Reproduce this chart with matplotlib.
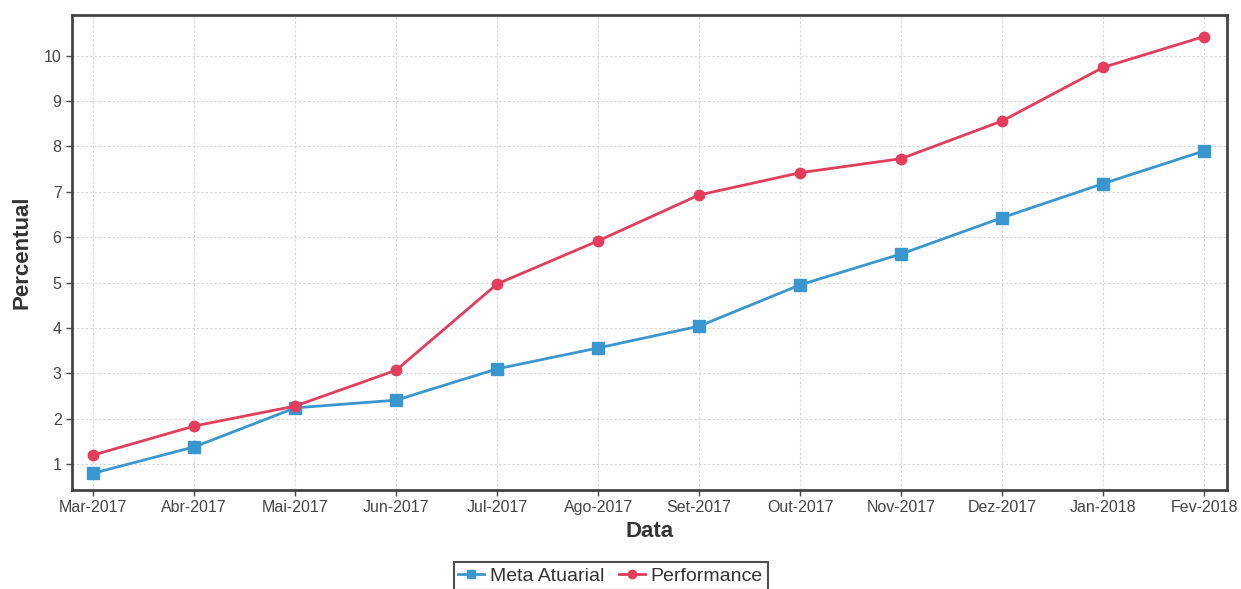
import matplotlib
matplotlib.use("Agg")
import matplotlib.pyplot as plt

months = ["Mar-2017", "Abr-2017", "Mai-2017", "Jun-2017", "Jul-2017", "Ago-2017",
          "Set-2017", "Out-2017", "Nov-2017", "Dez-2017", "Jan-2018", "Fev-2018"]
meta_atuarial = [0.80, 1.38, 2.24, 2.41, 3.10, 3.56, 4.04, 4.95, 5.63, 6.43, 7.18, 7.90]
performance = [1.20, 1.84, 2.28, 3.07, 4.97, 5.92, 6.93, 7.42, 7.73, 8.56, 9.74, 10.42]
yticks = [1, 2, 3, 4, 5, 6, 7, 8, 9, 10]

plt.rcParams['font.family'] = ['Liberation Sans', 'DejaVu Sans']

fig = plt.figure(figsize=(12.41, 5.89), dpi=100)
ax = fig.add_axes([0.058, 0.168, 0.931, 0.807])

x = list(range(len(months)))
l1, = ax.plot(x, meta_atuarial, color="#3a96cf", lw=2, marker="s", ms=8,
              label="Meta Atuarial", zorder=3)
l2, = ax.plot(x, performance, color="#e23d5c", lw=2, marker="o", ms=7.5,
              label="Performance", zorder=3)

ax.set_xlim(-0.21, 11.23)
ax.set_ylim(0.43, 10.9)
ax.set_xticks(x)
ax.set_xticklabels(months)
ax.set_yticks(yticks)
ax.tick_params(axis='both', colors="#444444", labelsize=11.5, length=4, width=1,
               labelcolor="#444444")
ax.grid(True, color="#d4d4d4", linestyle=(0, (2, 2)), lw=0.8)
for s in ax.spines.values():
    s.set_color("#444444")
    s.set_linewidth(2)

ax.set_xlabel("Data", fontsize=16, fontweight="bold", color="#333333", labelpad=4)
ax.set_ylabel("Percentual", fontsize=16, fontweight="bold", color="#333333", labelpad=8)

leg = fig.legend(handles=[l1, l2], loc="upper center", bbox_to_anchor=(0.492, 0.062),
                 ncol=2, fontsize=14, frameon=True, fancybox=False, handlelength=1.3,
                 handletextpad=0.3, columnspacing=0.8, borderpad=0.25, markerscale=0.8)
leg.get_frame().set_edgecolor("#222222")
leg.get_frame().set_linewidth(1.5)
for t in leg.get_texts():
    t.set_color("#333333")

fig.savefig("out.png", dpi=100)
